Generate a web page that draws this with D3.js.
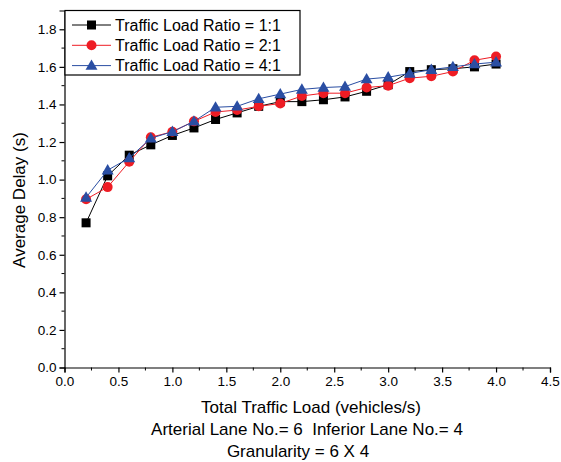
<!DOCTYPE html>
<html>
<head>
<meta charset="utf-8">
<script src="https://cdn.jsdelivr.net/npm/d3@7"></script>
<style>
  body { margin: 0; background: #fff; }
  svg text { font-family: "Liberation Sans", Arial, sans-serif; fill: #000; white-space: pre; }
</style>
</head>
<body>
<svg width="561" height="462"></svg>
<script>
const LOADS = [0.2, 0.4, 0.6, 0.8, 1.0, 1.2, 1.4, 1.6, 1.8, 2.0, 2.2, 2.4, 2.6, 2.8, 3.0, 3.2, 3.4, 3.6, 3.8, 4.0];
const RATIO_1_1 = [0.77, 1.02, 1.13, 1.185, 1.235, 1.275, 1.32, 1.355, 1.39, 1.415, 1.415, 1.425, 1.44, 1.47, 1.505, 1.575, 1.585, 1.59, 1.6, 1.615];
const RATIO_2_1 = [0.895, 0.96, 1.095, 1.225, 1.255, 1.31, 1.36, 1.37, 1.39, 1.405, 1.445, 1.46, 1.46, 1.49, 1.5, 1.54, 1.55, 1.575, 1.635, 1.655];
const RATIO_4_1 = [0.905, 1.05, 1.115, 1.22, 1.255, 1.31, 1.385, 1.39, 1.43, 1.455, 1.48, 1.49, 1.495, 1.535, 1.545, 1.565, 1.585, 1.6, 1.615, 1.625];
const SERIES_NAMES = ["Traffic Load Ratio = 1:1", "Traffic Load Ratio = 2:1", "Traffic Load Ratio = 4:1"];
const X_TICKS = [0, 0.5, 1, 1.5, 2, 2.5, 3, 3.5, 4, 4.5];
const Y_TICKS = [0, 0.2, 0.4, 0.6, 0.8, 1.0, 1.2, 1.4, 1.6, 1.8];

const series = [
    { name: SERIES_NAMES[0], values: RATIO_1_1, color: "#000000", shape: "square" },
    { name: SERIES_NAMES[1], values: RATIO_2_1, color: "#ee1c24", shape: "circle" },
    { name: SERIES_NAMES[2], values: RATIO_4_1, color: "#2a4ea3", shape: "triangle" },
];

const svg = d3.select("svg");
const x = d3.scaleLinear().domain([0, 4.5]).range([64.5, 550]);
const y = d3.scaleLinear().domain([0, 1.9]).range([367.5, 10.5]);

// axes: major ticks outside, minor ticks in between
const xAxis = d3.axisBottom(x).tickValues(X_TICKS).tickFormat(d3.format(".1f")).tickSizeOuter(0).tickSize(5).tickPadding(4);
const yAxis = d3.axisLeft(y).tickValues(Y_TICKS).tickFormat(d3.format(".1f")).tickSizeOuter(0).tickSize(5).tickPadding(3);

const gx = svg.append("g").attr("transform", "translate(0,367.5)").call(xAxis);
gx.selectAll("line.minor")
    .data(d3.range(0.25, 4.5, 0.5))
    .enter()
    .append("line")
    .attr("x1", (d) => x(d)).attr("x2", (d) => x(d))
    .attr("y1", 0).attr("y2", 3)
    .attr("stroke", "#000");

const gy = svg.append("g").attr("transform", "translate(64.5,0)").call(yAxis);
gy.selectAll("line.minor")
    .data(d3.range(0.1, 1.9, 0.2))
    .enter()
    .append("line")
    .attr("y1", (d) => y(d)).attr("y2", (d) => y(d))
    .attr("x1", 0).attr("x2", -3)
    .attr("stroke", "#000");

[gx, gy].forEach((g) => {
    g.select(".domain").attr("stroke-width", 1.2);
    g.selectAll(".tick line").attr("stroke-width", 1.2);
    g.selectAll("text").style("font-size", "13.5px").style("font-family", "Liberation Sans, Arial, sans-serif");
});

// axis titles
svg.append("text")
    .attr("x", 311).attr("y", 413)
    .attr("text-anchor", "middle").style("font-size", "17px")
    .text("Total Traffic Load (vehicles/s)");
svg.append("text")
    .attr("x", 307).attr("y", 435)
    .attr("text-anchor", "middle").style("font-size", "17px")
    .text("Arterial Lane No.= 6  Inferior Lane No.= 4");
svg.append("text")
    .attr("x", 298).attr("y", 457)
    .attr("text-anchor", "middle").style("font-size", "17px")
    .text("Granularity = 6 X 4");
svg.append("text")
    .attr("transform", "translate(25,200) rotate(-90)")
    .attr("text-anchor", "middle").style("font-size", "17px")
    .text("Average Delay (s)");

const drawMarker = (g, shape, color, cx, cy) => {
    if (shape == "square") {
        g.append("rect").attr("x", cx - 4.5).attr("y", cy - 4.5).attr("width", 9).attr("height", 9).attr("fill", color);
    } else if (shape == "circle") {
        g.append("circle").attr("cx", cx).attr("cy", cy).attr("r", 5).attr("fill", color);
    } else {
        const sym = d3.symbol().type(d3.symbolTriangle).size(62);
        g.append("path").attr("d", sym).attr("transform", `translate(${cx},${cy + 0.8})`).attr("fill", color);
    }
};

const line = d3.line().x((d) => x(d[0])).y((d) => y(d[1]));

series.forEach((s) => {
    const pts = LOADS.map((l, i) => [l, s.values[i]]);
    const g = svg.append("g");
    g.append("path").attr("d", line(pts)).attr("fill", "none").attr("stroke", s.color).attr("stroke-width", 1);
    pts.forEach((p) => drawMarker(g, s.shape, s.color, x(p[0]), y(p[1])));
});

// legend
const legend = svg.append("g");
legend.append("rect")
    .attr("x", 65).attr("y", 10.5).attr("width", 235).attr("height", 64.5)
    .attr("fill", "#fff").attr("stroke", "#000").attr("stroke-width", 1.2);
series.forEach((s, i) => {
    const ly = 25 + i * 20.3;
    legend.append("line").attr("x1", 72).attr("x2", 111).attr("y1", ly).attr("y2", ly)
        .attr("stroke", s.color).attr("stroke-width", 1);
    drawMarker(legend, s.shape, s.color, 91.5, ly);
    legend.append("text").attr("x", 115).attr("y", ly + 5.5).style("font-size", "16px").text(s.name);
});
</script>
</body>
</html>
